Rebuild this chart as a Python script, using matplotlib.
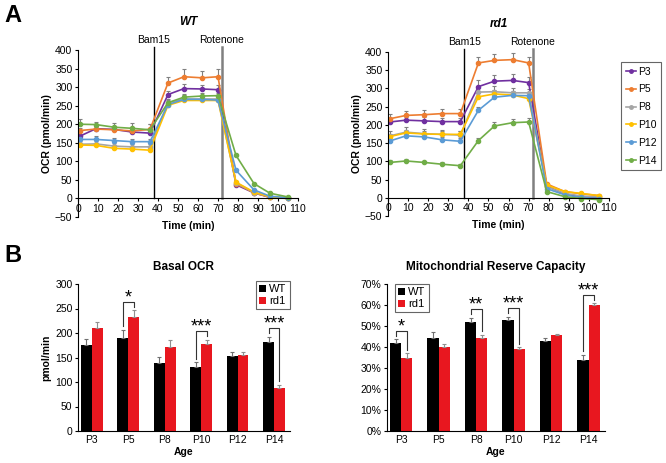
"""
Seahorse OCR traces (WT / rd1) and basal OCR / reserve capacity bars
"""
import numpy as np
import matplotlib
matplotlib.use('Agg')
import matplotlib.pyplot as plt
from matplotlib.patches import Patch
from matplotlib.lines import Line2D

plt.rcParams['font.family'] = ['Liberation Sans', 'DejaVu Sans']

# ── data ──
TIME = [1, 9, 18, 27, 36, 45, 53, 62, 70, 79, 88, 96, 105]
SERIES = ["P3", "P5", "P8", "P10", "P12", "P14"]
COLORS = ["#7030A0", "#ED7D31", "#A5A5A5", "#FFC000", "#5B9BD5", "#70AD47"]
BAM15_T = 38
ROTENONE_T = 72

wt_p3 = [168, 188, 186, 179, 176, 280, 296, 295, 293, 37, 15, 3, 0]
wt_p5 = [183, 187, 185, 182, 186, 311, 328, 325, 328, 40, 15, 3, 0]
wt_p8 = [146, 147, 141, 139, 139, 258, 268, 268, 268, 42, 16, 4, 1]
wt_p10 = [144, 143, 135, 133, 130, 251, 264, 264, 264, 44, 17, 5, 1]
wt_p12 = [159, 159, 156, 153, 153, 253, 267, 267, 265, 76, 23, 6, 2]
wt_p14 = [200, 199, 192, 189, 185, 258, 273, 276, 277, 116, 40, 14, 4]

wt_p3_err = [10, 8, 8, 12, 8, 10, 12, 12, 12, 2, 1, 1, 1]
wt_p5_err = [8, 8, 8, 8, 15, 15, 20, 18, 20, 3, 2, 1, 1]
wt_p8_err = [8, 8, 8, 8, 8, 10, 10, 10, 10, 2, 1, 1, 1]
wt_p10_err = [5, 5, 5, 5, 5, 5, 5, 5, 5, 2, 1, 1, 1]
wt_p12_err = [8, 8, 8, 8, 8, 10, 8, 8, 8, 3, 2, 1, 1]
wt_p14_err = [15, 8, 10, 15, 15, 8, 8, 8, 8, 5, 2, 1, 1]

rd1_p3 = [208, 213, 211, 209, 209, 305, 320, 322, 316, 32, 10, 3, 0]
rd1_p5 = [217, 226, 228, 231, 231, 370, 377, 379, 370, 38, 17, 11, 6]
rd1_p8 = [170, 180, 176, 174, 172, 290, 291, 288, 288, 30, 12, 5, 2]
rd1_p10 = [168, 178, 175, 174, 174, 277, 285, 282, 272, 35, 17, 12, 6]
rd1_p12 = [156, 170, 167, 159, 155, 240, 276, 281, 280, 25, 8, 1, -2]
rd1_p14 = [97, 101, 97, 92, 88, 157, 197, 206, 208, 17, 3, -2, -5]

rd1_p3_err = [10, 10, 10, 10, 10, 18, 18, 18, 15, 3, 2, 1, 1]
rd1_p5_err = [12, 12, 12, 12, 12, 15, 18, 18, 15, 3, 2, 1, 1]
rd1_p8_err = [12, 15, 12, 12, 12, 15, 15, 12, 10, 3, 2, 1, 1]
rd1_p10_err = [8, 8, 8, 10, 10, 10, 10, 10, 10, 3, 2, 1, 1]
rd1_p12_err = [8, 8, 8, 8, 8, 10, 10, 8, 8, 3, 2, 1, 1]
rd1_p14_err = [6, 6, 5, 5, 5, 8, 10, 10, 10, 3, 2, 1, 1]

AGES = ["P3", "P5", "P8", "P10", "P12", "P14"]
basal_wt = [176, 190, 139, 130, 153, 182]
basal_wt_err = [12, 17, 12, 10, 8, 10]
basal_rd1 = [211, 233, 172, 177, 155, 87]
basal_rd1_err = [11, 13, 14, 9, 7, 7]
basal_sig = [None, "*", None, "***", None, "***"]

mrc_wt = [42.0, 44.5, 51.9, 52.8, 43.0, 33.9]
mrc_wt_err = [1.6, 2.8, 2.0, 1.5, 1.3, 2.5]
mrc_rd1 = [35.0, 40.0, 44.4, 39.0, 45.6, 59.8]
mrc_rd1_err = [2.0, 1.5, 1.3, 0.8, 0.8, 1.0]
mrc_sig = ["*", None, "**", "***", None, "***"]

W, H = 666, 463


def px_axes(fig, left, top, right, bottom):
    """Create an axes from pixel box (origin top-left)."""
    return fig.add_axes([left / W, 1 - bottom / H, (right - left) / W, (bottom - top) / H])


def draw_trace(ax, values, errors, title):
    for vals, errs, color in zip(values, errors, COLORS):
        ax.errorbar(TIME, vals, yerr=[np.zeros(len(errs)), errs], color=color,
                    marker='o', markersize=3, linewidth=1.2,
                    ecolor='#808080', elinewidth=0.8, capsize=1.5, capthick=0.8)
    ax.set_xlim(0, 110)
    ax.set_ylim(-50, 400)
    ax.set_xticks(range(0, 111, 10))
    ax.set_yticks(range(-50, 401, 50))
    ax.spines['top'].set_visible(False)
    ax.spines['right'].set_visible(False)
    ax.spines['bottom'].set_position(('data', 0))
    ax.tick_params(labelsize=7.5, length=2.5, width=0.8, pad=1.5)
    ax.plot([BAM15_T, BAM15_T], [0, 409], color='black', linewidth=1.0, clip_on=False)
    ax.plot([ROTENONE_T, ROTENONE_T], [0, 409], color='#808080', linewidth=1.8, clip_on=False)
    ax.text(BAM15_T, 427, "Bam15", ha='center', va='center', fontsize=7.5)
    ax.text(ROTENONE_T, 427, "Rotenone", ha='center', va='center', fontsize=7.5)
    ax.text(0.5, 1.17, title, transform=ax.transAxes, ha='center', va='center',
            fontsize=8.5, fontweight='bold', fontstyle='italic')
    ax.text(0.5, -0.055, "Time (min)", transform=ax.transAxes, ha='center', va='center',
            fontsize=7.5, fontweight='bold')
    ax.set_ylabel("OCR (pmol/min)", fontsize=7.5, fontweight='bold', labelpad=2)


def draw_bars(ax, wt, wt_err, rd1, rd1_err, sig, title, ymax, ystep, pct=False):
    x = np.arange(len(AGES))
    w = 0.3
    ax.bar(x - w / 2, wt, w, color='black', yerr=[np.zeros(len(wt)), wt_err],
           error_kw=dict(ecolor='#707070', elinewidth=0.8, capsize=1.5, capthick=0.8))
    ax.bar(x + w / 2, rd1, w, color='#E8171F', yerr=[np.zeros(len(rd1)), rd1_err],
           error_kw=dict(ecolor='#909090', elinewidth=0.8, capsize=1.5, capthick=0.8))

    # significance brackets
    off = ymax * 0.06
    gap = ymax * 0.025
    for i, s in enumerate(sig):
        if s is None:
            continue
        t_wt = wt[i] + wt_err[i]
        t_rd = rd1[i] + rd1_err[i]
        top = max(t_wt, t_rd) + off
        ax.plot([i - w / 2, i - w / 2, i + w / 2, i + w / 2],
                [t_wt + gap, top, top, t_rd + gap], color='#333333', linewidth=0.8)
        ax.text(i, top - ymax * 0.005, s, ha='center', va='baseline', fontsize=13)

    ax.set_xlim(-0.38, 5.44)
    ax.set_ylim(0, ymax)
    ax.set_xticks(x)
    ax.set_xticklabels(AGES)
    ax.set_yticks(np.arange(0, ymax + 0.1, ystep))
    if pct:
        ax.set_yticklabels([f"{int(v)}%" for v in np.arange(0, ymax + 0.1, ystep)])
    ax.spines['top'].set_visible(False)
    ax.spines['right'].set_visible(False)
    ax.tick_params(labelsize=7.5, length=2.5, width=0.8, pad=1.5)
    ax.tick_params(axis='x', length=0, pad=3)
    ax.set_title(title, fontsize=8.5, fontweight='bold', pad=10)
    ax.set_xlabel("Age", fontsize=7.5, fontweight='bold', labelpad=1)


def main():
    fig = plt.figure(figsize=(W / 100, H / 100), dpi=100)

    ax_wt = px_axes(fig, 78, 50, 298, 217)
    draw_trace(ax_wt,
               [wt_p3, wt_p5, wt_p8, wt_p10, wt_p12, wt_p14],
               [wt_p3_err, wt_p5_err, wt_p8_err, wt_p10_err, wt_p12_err, wt_p14_err],
               "WT")

    ax_rd = px_axes(fig, 388, 52, 609, 216)
    draw_trace(ax_rd,
               [rd1_p3, rd1_p5, rd1_p8, rd1_p10, rd1_p12, rd1_p14],
               [rd1_p3_err, rd1_p5_err, rd1_p8_err, rd1_p10_err, rd1_p12_err, rd1_p14_err],
               "rd1")

    handles = [Line2D([], [], color=c, marker='o', markersize=2.5, linewidth=1.2) for c in COLORS]
    leg = fig.legend(handles, SERIES, loc='upper left', bbox_to_anchor=(621 / W, 1 - 62 / H),
                     fontsize=7.5, frameon=True, fancybox=False, handlelength=1.0,
                     handletextpad=0.15, borderpad=0.45, labelspacing=0.75, borderaxespad=0)
    leg.get_frame().set_edgecolor('#404040')
    leg.get_frame().set_linewidth(0.8)

    ax_b = px_axes(fig, 78, 284, 290, 431)
    draw_bars(ax_b, basal_wt, basal_wt_err, basal_rd1, basal_rd1_err, basal_sig,
              "Basal OCR", 300, 50)
    ax_b.set_ylabel("pmol/min", fontsize=7.5, fontweight='bold', labelpad=3)

    ax_m = px_axes(fig, 387, 284, 605, 431)
    draw_bars(ax_m, mrc_wt, mrc_wt_err, mrc_rd1, mrc_rd1_err, mrc_sig,
              "Mitochondrial Reserve Capacity", 70, 10, pct=True)

    bar_handles = [Patch(facecolor='black'), Patch(facecolor='#E8171F')]
    for ax, loc in [(ax_b, 'upper right'), (ax_m, 'upper left')]:
        lg = ax.legend(bar_handles, ["WT", "rd1"], loc=loc, fontsize=8, fancybox=False,
                       handlelength=0.6, handleheight=0.6, handletextpad=0.3,
                       borderpad=0.3, labelspacing=0.15, borderaxespad=0,
                       bbox_to_anchor=(1.0, 1.02) if loc == 'upper right' else (0.035, 1.0))
        lg.get_frame().set_edgecolor('#404040')
        lg.get_frame().set_linewidth(0.8)

    fig.text(4 / W, 1 - 15 / H, "A", fontsize=17, fontweight='bold', va='center')
    fig.text(4 / W, 1 - 255 / H, "B", fontsize=17, fontweight='bold', va='center')

    fig.savefig("out.png", dpi=100, facecolor='white')
    plt.close(fig)


if __name__ == "__main__":
    main()
